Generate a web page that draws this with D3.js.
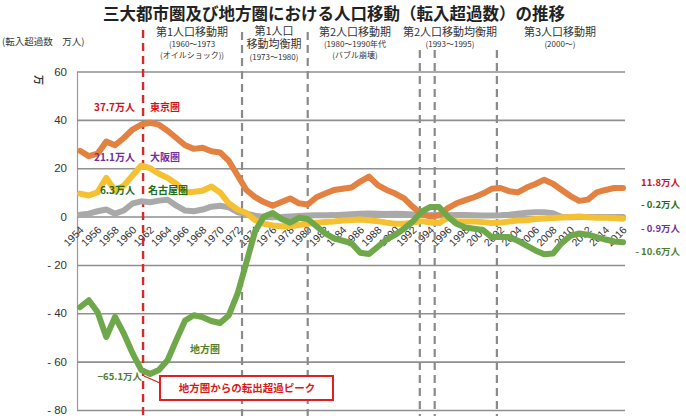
<!DOCTYPE html>
<html><head><meta charset="utf-8">
<script src="https://cdn.jsdelivr.net/npm/d3@7"></script>
<style>
html,body{margin:0;padding:0;background:#fff;}
svg{display:block;font-family:"Noto Sans CJK JP","Noto Sans",sans-serif;}
</style></head>
<body>
<svg id="chart" width="686" height="416"></svg>
<script>
// ---- data ----
const years = [1954,1955,1956,1957,1958,1959,1960,1961,1962,1963,1964,1965,1966,1967,1968,1969,1970,1971,1972,1973,1974,1975,1976,1977,1978,1979,1980,1981,1982,1983,1984,1985,1986,1987,1988,1989,1990,1991,1992,1993,1994,1995,1996,1997,1998,1999,2000,2001,2002,2003,2004,2005,2006,2007,2008,2009,2010,2011,2012,2013,2014,2015,2016];
const tokyo = [27.2,25,26,31,29.5,32.5,36,38,38.8,38,35.5,32.5,29.5,28,28.5,27,26.5,23,17,11,8,6,4.5,6,7.5,5.5,5,8,9.5,11,11.5,12,14.5,16.5,13,11,9.5,7.5,4,1,0,0.5,3.5,5.5,6.8,8,9.5,11.5,11.8,10.5,10,12,13.5,15.2,13.6,11,8.5,6.5,7,10,11,11.8,11.8];
const osaka = [9.5,8.7,10,16,10.7,12.8,17,21.1,20,17.7,16,13.6,10,10.3,10.7,12.4,10,5.4,2.9,1.5,-1.5,-3,-3.7,-4,-4,-3.5,-3,-2.5,-2.2,-2,-1.6,-1.4,-1.2,-1.5,-1.9,-2.5,-3,-3,-2.5,-1.9,-2.5,-2.7,-0.5,-2,-2,-2,-2.3,-2.7,-2.5,-2,-1.6,-1.5,-1,-0.8,-0.6,-0.4,-0.2,0,-0.3,-0.5,-0.5,-0.6,-0.9];
const nagoya = [0.8,1.2,2.2,2.9,1.2,2.5,5.4,6.3,5.9,6.6,7,4.5,2.5,2.2,2.9,4.1,4.5,3.8,1.8,1.2,0.4,-0.2,-0.3,-0.2,0,0.2,0.4,0.5,0.5,0.6,0.8,1,1.2,1.3,1.2,1.1,1.2,1.1,0.9,0.8,0.6,0.5,0.5,0.6,0.6,0.5,0.4,0.4,0.5,0.8,1.2,1.6,1.8,1.8,1.4,-0.2,-0.3,-0.2,-0.2,-0.2,-0.2,-0.2,-0.2];
const rural = [-37.5,-34.6,-39.5,-49.8,-41.5,-48.3,-56.5,-63.5,-65.1,-63.5,-59.4,-51,-43,-40.8,-41.6,-43.2,-44,-40.8,-31.8,-19,-6,0,1.5,-1,-2.5,-0.5,-1,-4,-7,-9,-10,-11,-15,-15.5,-12.5,-9.5,-7.5,-5,-2,2,4,4,0,-3,-4.5,-5,-5.5,-8.5,-8.5,-8.5,-10,-12,-14,-15.6,-15.3,-11,-8,-7,-7.5,-8.5,-9.5,-10.3,-10.6];
const yTicks = [60,40,20,0,-20,-40,-60,-80];
const xTickYears = [1954,1956,1958,1960,1962,1964,1966,1968,1970,1972,1974,1976,1978,1980,1982,1984,1986,1988,1990,1992,1994,1996,1998,2000,2002,2004,2006,2008,2010,2012,2014,2016];
const periodLines = [1961.2,1972.5,1980.0,1992.8,1994.5,2001.6];
const periodHeaders = [
  ["第1人口移動期","(1960～1973","(オイルショック))"],
  ["第1人口","移動均衡期","(1973～1980)"],
  ["第2人口移動期","(1980～1990年代","(バブル崩壊)"],
  ["第2人口移動均衡期","(1993～1995)"],
  ["第3人口移動期","(2000～)"]
];
const seriesNames = ["名古屋圏","大阪圏","東京圏","地方圏"];
const endLabels = ["11.8万人","- 0.2万人","- 0.9万人","- 10.6万人"];

// ---- layout ----
const svg = d3.select("#chart");
const x = d3.scaleLinear().domain([1954,2016]).range([80,623]);
const y = d3.scaleLinear().domain([-80,60]).range([410,71.5]);
const gridRight = 625, axisX = 77;

// title
svg.append("text").attr("x",334).attr("y",20).attr("text-anchor","middle")
  .attr("font-size",16.5).attr("font-weight","bold").attr("fill","#222")
  .text("三大都市圏及び地方圏における人口移動（転入超過数）の推移");
svg.append("text").attr("x",2).attr("y",45).attr("font-size",9.5).attr("fill","#333")
  .text("(転入超過数　万人)");
svg.append("text").attr("transform","translate(35,80) rotate(90)").attr("font-size",10)
  .attr("font-weight","bold").attr("fill","#333").attr("text-anchor","middle").text("万");

// grid + y axis
const yAxis = d3.axisLeft(y).tickValues(yTicks).tickSize(-(gridRight-axisX)).tickSizeOuter(0).tickPadding(10)
  .tickFormat(v => v < 0 ? "- " + Math.abs(v) : String(v));
const gy = svg.append("g").attr("transform",`translate(${axisX},0)`).call(yAxis);
gy.selectAll(".tick line").attr("stroke","#8f8f8f").attr("stroke-width",1.6);
gy.select(".domain").attr("stroke","#9a9a9a").attr("stroke-width",1.2);
gy.selectAll("text").attr("font-family","'Liberation Sans',Arial,sans-serif").attr("font-size",11.5).attr("fill","#333");

// x tick labels
const xAxis = d3.axisBottom(x).tickValues(xTickYears).tickSize(0).tickFormat(d3.format("d"));
const gx = svg.append("g").attr("transform",`translate(0,${y(0)})`).call(xAxis);
gx.select(".domain").remove();
gx.selectAll("text").attr("x",0).attr("y",0).attr("dy",0)
  .attr("transform","translate(4,14) rotate(-45)").attr("text-anchor","end")
  .attr("font-family","'Liberation Sans',Arial,sans-serif").attr("font-size",10.5).attr("fill","#333");

// period lines
const lineTops = [30,32,32,50,50,50];
periodLines.forEach((yr,i) => {
  svg.append("line").attr("x1",x(yr)).attr("x2",x(yr)).attr("y1",lineTops[i]).attr("y2",416)
    .attr("stroke", i===0 ? "#d42a2a" : "#8a8a8a").attr("stroke-width", i===0 ? 2.4 : 2.2)
    .attr("stroke-dasharray","8,5");
});

// period headers
const headerX = [192,274,355,450,560];
const headerY = [[36,47,58],[35,48,60],[36,47,58],[36,47],[36,47]];
periodHeaders.forEach((lines,i) => {
  lines.forEach((t,j) => {
    const big = (j===0) || (i===1 && j===1);
    svg.append("text").attr("x",headerX[i]).attr("y",headerY[i][j]).attr("text-anchor","middle")
      .attr("font-size", big ? 11 : 8).attr("fill","#333").text(t);
  });
});

// series lines
const line = d3.line().x((d,i)=>x(years[i])).y(d=>y(d));
const series = [
  {vals:nagoya, color:"#a9a9a9"},
  {vals:osaka, color:"#f5c132"},
  {vals:tokyo, color:"#e38140"},
  {vals:rural, color:"#6fa84b"}
];
series.forEach(s => {
  svg.append("path").datum(s.vals).attr("d",line).attr("fill","none")
    .attr("stroke",s.color).attr("stroke-width",6).attr("stroke-linejoin","round").attr("stroke-linecap","round");
});

// annotations
function lab(tx,ty,t,col,anchor,fs){
  svg.append("text").attr("x",tx).attr("y",ty).attr("text-anchor",anchor||"start")
    .attr("font-size",fs||10).attr("font-weight","bold").attr("fill",col).text(t);
}
const cTokyo="#d0121b", cOsaka="#7030a0", cNagoya="#1d6e1d", cRural="#4f7f2e";
lab(135,111,"37.7万人",cTokyo,"end");
lab(150,111,seriesNames[2],cTokyo);
lab(135,161,"21.1万人",cOsaka,"end");
lab(150,161,seriesNames[1],cOsaka);
lab(135,194,"6.3万人",cNagoya,"end");
lab(148,194,seriesNames[0],cNagoya);
lab(205,353,seriesNames[3],cRural,"middle");
lab(142,380,"−65.1万人",cRural,"end",9.5);

lab(680,186,endLabels[0],cTokyo,"end",9.5);
lab(680,208,endLabels[1],cNagoya,"end",9.5);
lab(680,232,endLabels[2],cOsaka,"end",9.5);
lab(680,255,endLabels[3],cRural,"end",9.5);

// peak callout
svg.append("line").attr("x1",x(1961.3)).attr("y1",y(-65.1)+2).attr("x2",160).attr("y2",383)
  .attr("stroke","#d42020").attr("stroke-width",1.2);
svg.append("rect").attr("x",160).attr("y",376).attr("width",173).attr("height",24)
  .attr("fill","#fff").attr("stroke","#e02020").attr("stroke-width",2);
lab(247,392,"地方圏からの転出超過ピーク","#d81a1a","middle",10.5);
</script>
</body></html>
